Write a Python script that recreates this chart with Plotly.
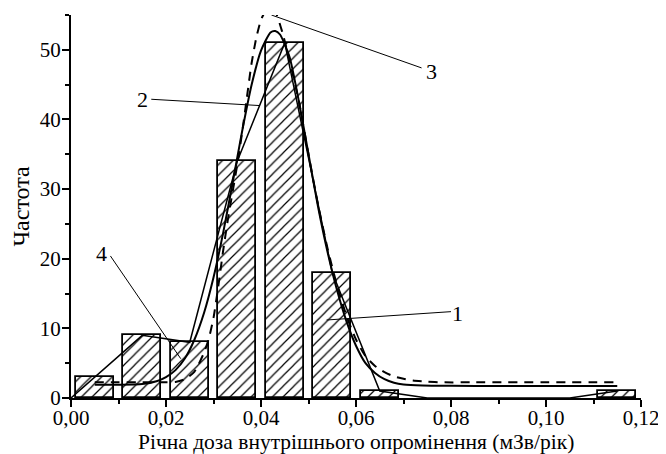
import plotly.graph_objects as go

# ---- data ----
bin_centers = [0.005, 0.015, 0.025, 0.035, 0.045, 0.055, 0.065, 0.075, 0.085, 0.095, 0.105, 0.115]
counts = [3, 9, 8, 34, 51, 18, 1, 0, 0, 0, 0, 1]
bar_width = 0.008

# frequency polygon (curve 2)
poly_x = [0.0] + bin_centers
poly_y = [0] + counts

# smooth solid fit (curve 4)
solid_x = [0.005, 0.010, 0.015, 0.018, 0.020, 0.022, 0.024, 0.026, 0.028, 0.030, 0.032, 0.034,
           0.036, 0.038, 0.040, 0.042, 0.043, 0.044, 0.046, 0.048, 0.050, 0.052, 0.054, 0.056,
           0.058, 0.060, 0.062, 0.064, 0.066, 0.068, 0.070, 0.074, 0.080, 0.090, 0.115]
solid_y = [1.9, 1.9, 2.0, 2.4, 3.0, 4.0, 5.7, 8.4, 12.2, 17.3, 23.6, 30.8,
           38.2, 44.9, 49.9, 52.5, 52.7, 52.2, 49.0, 42.5, 35.0, 27.5, 21.0, 15.5,
           11.0, 7.5, 5.0, 3.6, 2.7, 2.2, 1.95, 1.8, 1.75, 1.72, 1.72]

# dashed fit (curve 3)
dash_x = [0.005, 0.010, 0.015, 0.020, 0.022, 0.024, 0.026, 0.028, 0.029, 0.030, 0.031, 0.032,
          0.033, 0.034, 0.035, 0.036, 0.037, 0.038, 0.039, 0.040, 0.041, 0.042, 0.043, 0.0445,
          0.046, 0.048, 0.050, 0.052, 0.054, 0.056, 0.058, 0.060, 0.062, 0.064, 0.066, 0.068,
          0.070, 0.072, 0.075, 0.078, 0.085, 0.115]
dash_y = [2.25, 2.25, 2.25, 2.25, 2.3, 2.7, 3.8, 6.5, 8.5, 11.5, 16.0, 21.0,
          25.5, 29.5, 33.5, 38.0, 43.0, 48.0, 51.7, 54.3, 55.6, 56.0, 55.5, 52.5,
          48.5, 42.5, 35.0, 27.8, 21.5, 16.2, 11.8, 8.4, 6.0, 4.6, 3.7, 3.1,
          2.75, 2.5, 2.35, 2.25, 2.25, 2.25]

# curve labels: text, label position, leader start, leader end
label_text = ["1", "2", "3", "4"]
label_x = [0.0813, 0.0151, 0.0758, 0.0064]
label_y = [12.1, 42.8, 46.9, 20.75]
leader_x0 = [0.0800, 0.0169, 0.0738, 0.0083]
leader_y0 = [12.4, 42.9, 47.4, 20.4]
leader_x1 = [0.0538, 0.0396, 0.0422, 0.0231]
leader_y1 = [11.2, 42.0, 55.0, 5.65]

x_ticks = [0.0, 0.02, 0.04, 0.06, 0.08, 0.10, 0.12]
y_ticks = [0, 10, 20, 30, 40, 50]

FONT = "Liberation Serif"

# only non-empty bins get a drawn bar
bar_x = [c for c, n in zip(bin_centers, counts) if n > 0]
bar_y = [n for n in counts if n > 0]

fig = go.Figure()

fig.add_trace(go.Bar(
    x=bar_x, y=bar_y, width=bar_width,
    marker=dict(color="white",
                line=dict(color="black", width=1.8),
                pattern=dict(shape="/", fgcolor="black", bgcolor="white", fgopacity=1,
                             size=7.5, solidity=0.16, fillmode="overlay")),
    showlegend=False,
))

fig.add_trace(go.Scatter(x=poly_x, y=poly_y, mode="lines",
                         line=dict(color="black", width=1.5), showlegend=False))
fig.add_trace(go.Scatter(x=solid_x, y=solid_y, mode="lines",
                         line=dict(color="black", width=2, shape="spline", smoothing=0.6),
                         showlegend=False))
fig.add_trace(go.Scatter(x=dash_x, y=dash_y, mode="lines",
                         line=dict(color="black", width=2, dash="9px,7px", shape="spline", smoothing=0.6),
                         showlegend=False))

for i in range(len(label_text)):
    fig.add_shape(type="line", xref="x", yref="y",
                  x0=leader_x0[i], y0=leader_y0[i], x1=leader_x1[i], y1=leader_y1[i],
                  line=dict(color="black", width=1))
    fig.add_annotation(x=label_x[i], y=label_y[i], xref="x", yref="y",
                       text=label_text[i], showarrow=False,
                       font=dict(family=FONT, size=22, color="black"))

fig.add_annotation(x=0.5, y=0, xref="paper", yref="paper", yshift=-44,
                   text="Річна доза внутрішнього опромінення (мЗв/рік)",
                   showarrow=False, yanchor="middle", xanchor="center",
                   font=dict(family=FONT, size=21.5, color="black"))
fig.add_annotation(x=0, y=0.5, xref="paper", yref="paper", xshift=-51,
                   text="Частота", textangle=-90,
                   showarrow=False, yanchor="middle", xanchor="center",
                   font=dict(family=FONT, size=24, color="black"))

# page body has an 8px margin: compensate so the plot area lands where the reference has it
fig.update_layout(
    width=658, height=446,
    margin=dict(l=63, r=23, t=7, b=56),
    paper_bgcolor="white", plot_bgcolor="white",
    separators=", ",
    bargap=0,
    font=dict(family=FONT, size=21, color="black"),
)
fig.update_xaxes(range=[0, 0.12], tickvals=x_ticks, tickformat=".2f",
                 showgrid=False, zeroline=False,
                 showline=True, linecolor="black", linewidth=2,
                 ticks="outside", ticklen=7, tickwidth=1.5, tickcolor="black",
                 ticklabelstandoff=-7,
                 minor=dict(dtick=0.01, ticks="outside", ticklen=4, tickwidth=1.5, tickcolor="black"),
                 tickfont=dict(family=FONT, size=21, color="black"))
fig.update_yaxes(range=[0, 55], tickvals=y_ticks,
                 showgrid=False, zeroline=False,
                 showline=True, linecolor="black", linewidth=2,
                 ticks="outside", ticklen=7, tickwidth=1.5, tickcolor="black",
                 ticklabelstandoff=-3,
                 minor=dict(dtick=5, ticks="outside", ticklen=4, tickwidth=1.5, tickcolor="black"),
                 tickfont=dict(family=FONT, size=21, color="black"))

fig.write_html("out.html")
